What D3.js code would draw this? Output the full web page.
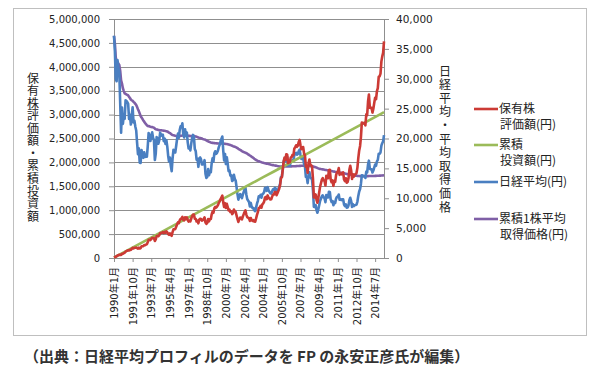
<!DOCTYPE html>
<html><head><meta charset="utf-8">
<script src="https://cdn.jsdelivr.net/npm/d3@7/dist/d3.min.js"></script>
<style>
html,body{margin:0;padding:0;background:#fff;}
svg{display:block;}
</style>
</head><body>
<svg id="chart" width="600" height="388"></svg>
<script>
// ---- DATA ----
const xTickLabels = ["1990年1月","1991年10月","1993年7月","1995年4月","1997年1月","1998年10月","2000年7月","2002年4月","2004年1月","2005年10月","2007年7月","2009年4月","2011年1月","2012年10月","2014年7月"];
const leftTicks = [0,500000,1000000,1500000,2000000,2500000,3000000,3500000,4000000,4500000,5000000];
const rightTicks = [0,5000,10000,15000,20000,25000,30000,35000,40000];
const firstMonth = "1990-01";
const lastMonth = "2015-05";

// 日経平均(円) monthly
const nikkei = [
37189,34592,29980,29585,33131,31940,31036,25978,20984,25194,22455,23849,
23293,26409,26292,26111,25790,23291,23975,22336,23916,25222,22687,22984,
22023,21339,19346,17391,18348,15952,15910,18061,17399,16768,17684,16925,
17024,16953,18591,20919,20552,19590,20380,21027,20106,19704,16408,17417,
20229,19997,19112,19725,20974,20644,20462,20629,19564,19990,19076,19723,
18650,17054,16140,16807,15437,14518,16678,18117,17913,17655,18744,19868,
20813,20125,21407,22041,21956,22531,20693,20167,21556,20467,21020,19361,
18330,18557,18003,19151,20069,20605,20331,18229,17888,16459,16636,15259,
16628,16832,16527,15641,15671,15830,16379,14108,13406,13565,14883,13842,
14499,14368,15837,16702,16112,17530,17862,17437,17605,17942,18558,18934,
19540,19960,20337,17974,16332,17411,15727,16861,15747,14540,14649,13786,
13844,12884,12999,13934,13262,12969,11861,10714,9775,10366,10697,10543,
9998,10588,11025,11493,11764,10622,9878,9619,9383,8640,9216,8579,
8340,8363,7973,7831,8425,9083,9563,10344,10219,10560,10101,10677,
10784,11042,11715,11762,11236,11859,11326,11082,10824,10771,11169,11489,
11388,11741,11669,11009,11277,11584,11900,12414,13574,13607,14872,16111,
16650,16206,17060,16906,15467,15506,15457,16141,16128,16399,16274,17226,
17383,17604,17288,17400,17876,18138,17249,16569,16786,16738,15681,15308,
13592,13603,12526,13850,14339,13481,13377,13073,11260,8577,8512,8860,
7994,7568,8110,8828,9523,9958,10357,10493,10133,10035,9346,10546,
10198,10126,11090,11057,9769,9383,9537,8824,9369,9202,9937,10229,
10238,10624,9755,9850,9694,9816,9833,8955,8700,8988,8435,8455,
8803,9723,10084,9521,8543,9007,8695,8840,8870,8928,9446,10395,
11139,11559,12398,13861,13775,13677,13668,13389,14456,14328,15662,16291,
14915,14841,14828,14304,14632,15162,15621,15425,16174,16414,17460,17451,
17674,18798,19207,19520,20563];

// 累積1株平均取得価格(円) monthly
const avgCost = [
37189,35842,33647,32531,32650,32529,32307,31353,29721,29196,28421,27974,
27548,27463,27382,27299,27206,26954,26779,26515,26379,26324,26141,25993,
25806,25600,25297,24893,24591,24155,23758,23526,23277,23015,22818,22600,
22401,22213,22103,22072,22032,21967,21927,21906,21862,21810,21659,21549,
21520,21488,21435,21400,21392,21377,21360,21346,21312,21288,21246,21219,
21171,21089,20987,20906,20792,20657,20584,20542,20499,20452,20426,20418,
20423,20419,20432,20451,20469,20493,20496,20492,20504,20504,20510,20495,
20467,20443,20411,20395,20392,20394,20393,20367,20337,20286,20239,20170,
20126,20086,20043,19986,19932,19882,19840,19763,19675,19591,19533,19459,
19398,19337,19298,19272,19238,19222,19209,19192,19178,19166,19161,19159,
19162,19168,19177,19167,19140,19126,19093,19073,19042,18997,18954,18900,
18849,18784,18722,18675,18619,18561,18486,18390,18276,18178,18090,18000,
17901,17817,17743,17678,17618,17541,17452,17359,17263,17152,17057,16950,
16839,16731,16617,16501,16403,16322,16252,16195,16138,16087,16030,15982,
15937,15895,15862,15830,15793,15763,15728,15690,15651,15611,15576,15545,
15514,15487,15459,15425,15395,15368,15343,15324,15314,15304,15302,15305,
15312,15316,15324,15332,15332,15333,15334,15338,15341,15346,15351,15359,
15368,15377,15385,15394,15404,15415,15423,15428,15434,15439,15441,15440,
15430,15420,15404,15397,15391,15382,15371,15359,15334,15281,15228,15180,
15121,15055,15000,14955,14918,14886,14859,14833,14804,14774,14738,14714,
14687,14660,14640,14621,14591,14558,14527,14490,14458,14425,14399,14376,
14353,14333,14307,14281,14255,14230,14206,14174,14140,14109,14073,14038,
14006,13983,13963,13939,13906,13878,13848,13819,13790,13763,13740,13724,
13713,13704,13698,13699,13699,13699,13699,13698,13701,13703,13709,13716,
13720,13724,13727,13729,13732,13736,13742,13747,13754,13762,13771,13781,
13791,13803,13816,13829,13844];

// 保有株評価額(円) monthly
const holdings = [
10000,19000,27000,36000,51000,59000,67000,66000,64000,86000,87000,102000,
110000,135000,144000,153000,161000,156000,170000,168000,190000,211000,200000,212000,
213000,217000,206000,196000,216000,198000,208000,246000,247000,248000,271000,270000,
281000,290000,328000,379000,382000,375000,400000,422000,414000,416000,356000,388000,
461000,465000,455000,479000,520000,521000,527000,541000,523000,545000,530000,558000,
537000,501000,485000,515000,483000,464000,543000,600000,603000,604000,652000,701000,
744000,729000,786000,819000,826000,858000,798000,787000,852000,819000,851000,794000,
761000,781000,767000,826000,876000,909000,907000,823000,818000,763000,781000,726000,
801000,821000,816000,783000,794000,812000,850000,742000,715000,734000,815000,768000,
815000,817000,911000,971000,946000,1040000,1069000,1054000,1074000,1105000,1153000,1186000,
1234000,1270000,1304000,1163000,1067000,1147000,1046000,1132000,1067000,995000,1012000,963000,
977000,919000,937000,1015000,976000,964000,892000,816000,754000,810000,846000,843000,
810000,868000,913000,962000,995000,908000,855000,842000,832000,776000,837000,790000,
778000,790000,763000,759000,827000,902000,959000,1047000,1045000,1090000,1052000,1122000,
1144000,1181000,1263000,1278000,1231000,1309000,1260000,1243000,1224000,1228000,1284000,1330000,
1329000,1380000,1381000,1313000,1355000,1402000,1450000,1523000,1675000,1689000,1856000,2021000,
2099000,2053000,2171000,2161000,1987000,2002000,2006000,2105000,2113000,2159000,2152000,2288000,
2319000,2358000,2326000,2351000,2425000,2471000,2360000,2277000,2317000,2320000,2183000,2142000,
1911000,1923000,1781000,1979000,2059000,1946000,1941000,1907000,1652000,1268000,1269000,1331000,
1211000,1156000,1249000,1370000,1487000,1565000,1638000,1670000,1622000,1617000,1516000,1720000,
1673000,1672000,1841000,1845000,1640000,1585000,1622000,1510000,1614000,1595000,1732000,1793000,
1805000,1883000,1739000,1766000,1748000,1780000,1793000,1643000,1606000,1669000,1576000,1590000,
1666000,1850000,1928000,1831000,1653000,1752000,1702000,1740000,1756000,1777000,1891000,2090000,
2250000,2345000,2525000,2833000,2826000,2815000,2824000,2776000,3007000,2991000,3279000,3421000,
3142000,3136000,3143000,3042000,3122000,3245000,3353000,3321000,3493000,3554000,3791000,3799000,
3858000,4113000,4212000,4291000,4530000];

// 累積投資額(円) read at each January and at the last month
const investedMonths = ["1990-01","1991-01","1992-01","1993-01","1994-01","1995-01","1996-01","1997-01","1998-01","1999-01","2000-01","2001-01","2002-01","2003-01","2004-01","2005-01","2006-01","2007-01","2008-01","2009-01","2010-01","2011-01","2012-01","2013-01","2014-01","2015-01","2015-05"];
const investedValues = [10000,130000,250000,370000,490000,610000,730000,850000,970000,1090000,1210000,1330000,1450000,1570000,1690000,1810000,1930000,2050000,2170000,2290000,2410000,2530000,2650000,2770000,2890000,3010000,3050000];

const legendItems = [
  {lines:["保有株","評価額(円)"], color:"#cc3a35"},
  {lines:["累積","投資額(円)"], color:"#9bbb59"},
  {lines:["日経平均(円)"], color:"#4a7fc1"},
  {lines:["累積1株平均","取得価格(円)"], color:"#7f5fa6"}
];
const leftTitle = "保有株評価額・累積投資額";
const rightTitle = "日経平均・平均取得価格";
const caption = "（出典：日経平均プロフィルのデータを FP の永安正彦氏が編集）";

// ---- DRAW ----
const svg = d3.select("#chart");
const parseYM = s => { const m = s.match(/(\d+)\D+(\d+)/); return new Date(+m[1], +m[2]-1, 1); };
const months = d3.timeMonth.range(parseYM(firstMonth), d3.timeMonth.offset(parseYM(lastMonth),1));

const L = 114, R = 384, T = 19, B = 258;
const x = d3.scaleTime().domain([parseYM(firstMonth), parseYM(lastMonth)]).range([L, R]);
const yL = d3.scaleLinear().domain([0, 5000000]).range([B, T]);
const yR = d3.scaleLinear().domain([0, 40000]).range([B, T]);

// frame
svg.append("rect").attr("x",13.5).attr("y",8.5).attr("width",573).attr("height",327)
  .attr("fill","none").attr("stroke","#bfbfbf").attr("stroke-width",1);

// gridlines
svg.append("g").selectAll("line").data(leftTicks.slice(1)).join("line")
  .attr("x1",L).attr("x2",R).attr("y1",d=>Math.round(yL(d))+0.5).attr("y2",d=>Math.round(yL(d))+0.5)
  .attr("stroke","#8f8f8f").attr("stroke-width",1);

const numFont = "'DejaVu Sans', 'Noto Sans CJK JP', sans-serif";
const fmt = d3.format(",");

// left axis
const gL = svg.append("g").attr("transform",`translate(${L},0)`)
  .call(d3.axisLeft(yL).tickValues(leftTicks).tickFormat(fmt).tickSize(5).tickSizeOuter(0).tickPadding(9));
// right axis
const gR = svg.append("g").attr("transform",`translate(${R},0)`)
  .call(d3.axisRight(yR).tickValues(rightTicks).tickFormat(fmt).tickSize(5).tickSizeOuter(0).tickPadding(7));
// bottom axis
const xTickDates = xTickLabels.map(parseYM);
const gB = svg.append("g").attr("transform",`translate(0,${B})`)
  .call(d3.axisBottom(x).tickValues(xTickDates).tickFormat((d,i)=>xTickLabels[i]).tickSize(4).tickSizeOuter(0));

[gL,gR,gB].forEach(g=>{
  g.select(".domain").attr("stroke","#8f8f8f");
  g.selectAll(".tick line").attr("stroke","#8f8f8f");
  g.selectAll("text").attr("fill","#222").style("font-family",numFont).style("font-size","10px");
});
gR.selectAll("text").style("font-size","10.5px");
gB.selectAll("text")
  .attr("transform","rotate(-90)")
  .attr("text-anchor","end")
  .attr("x",-9).attr("y",0).attr("dy","0.35em");

// lines
const lineL = d3.line().x((d,i)=>x(months[i])).y(d=>yL(d));
const lineR = d3.line().x((d,i)=>x(months[i])).y(d=>yR(d));
const lineInv = d3.line().x((d,i)=>x(parseYM(investedMonths[i]))).y(d=>yL(d));

const plot = svg.append("g");
plot.append("path").datum(avgCost).attr("d",lineR).attr("fill","none")
  .attr("stroke",legendItems[3].color).attr("stroke-width",2.6).attr("stroke-linejoin","round");
plot.append("path").datum(nikkei).attr("d",lineR).attr("fill","none")
  .attr("stroke",legendItems[2].color).attr("stroke-width",2.6).attr("stroke-linejoin","round");
plot.append("path").datum(investedValues).attr("d",lineInv).attr("fill","none")
  .attr("stroke",legendItems[1].color).attr("stroke-width",2.6);
plot.append("path").datum(holdings).attr("d",lineL).attr("fill","none")
  .attr("stroke",legendItems[0].color).attr("stroke-width",2.6).attr("stroke-linejoin","round");

// axis titles (vertical)
const cjk = "'Noto Sans CJK JP', sans-serif";
svg.append("text").text(leftTitle)
  .attr("x",33).attr("y",72)
  .style("writing-mode","vertical-rl").style("text-orientation","upright")
  .style("font-family",cjk).style("font-size","12px").style("letter-spacing","0.55px")
  .attr("fill","#222");
svg.append("text").text(rightTitle)
  .attr("x",445).attr("y",65)
  .style("writing-mode","vertical-rl").style("text-orientation","upright")
  .style("font-family",cjk).style("font-size","12px").style("letter-spacing","1.6px")
  .attr("fill","#222");

// legend
const legendY = [109, 145, 182, 219];
const lg = svg.append("g");
legendItems.forEach((it,i)=>{
  const y0 = legendY[i];
  lg.append("line").attr("x1",474).attr("x2",498).attr("y1",y0).attr("y2",y0)
    .attr("stroke",it.color).attr("stroke-width",2.6);
  it.lines.forEach((s,j)=>{
    lg.append("text").text(s).attr("x",j===0?499:500).attr("y",y0+j*16).attr("dy","0.36em")
      .style("font-family",cjk).style("font-size","12px").attr("fill","#222");
  });
});

// caption
svg.append("text").text(caption).attr("x",24).attr("y",362)
  .style("font-family",cjk).style("font-size","15px").style("font-weight","bold")
  .attr("fill","#333");
</script>
</body></html>
